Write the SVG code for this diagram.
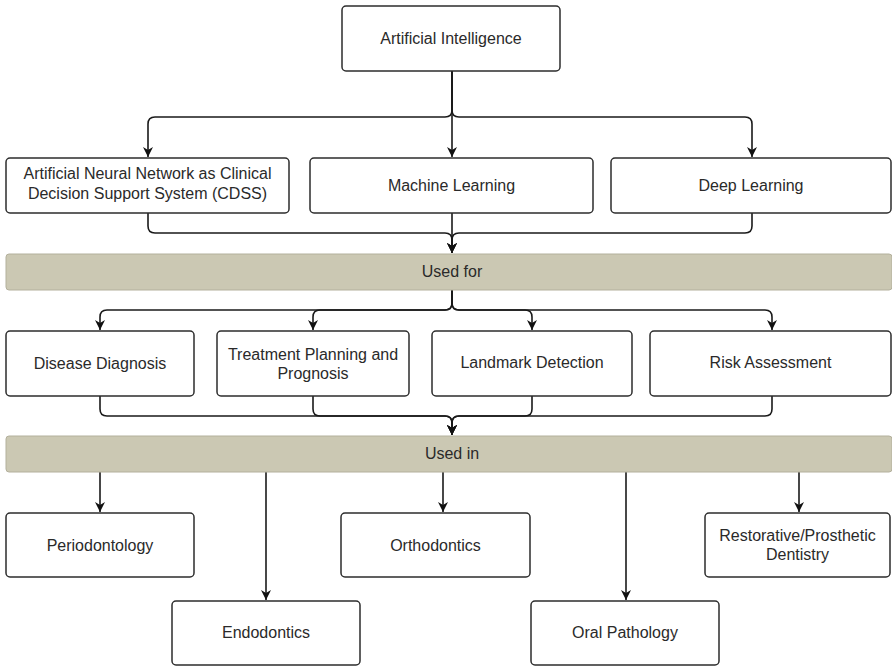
<svg xmlns="http://www.w3.org/2000/svg" width="892" height="667" viewBox="0 0 892 667">
<defs>
<marker id="ah" markerUnits="userSpaceOnUse" markerWidth="12" markerHeight="12" viewBox="0 0 12 12" refX="11" refY="6" orient="auto">
<path d="M1,1 L11,6 L1,11 L4,6 Z" fill="#111"/>
</marker>
<style>
.box{fill:#fff;stroke:#2d2d2d;stroke-width:1.5}
.bar{fill:#cbc8b3;stroke:#b3b09c;stroke-width:1}
.t{font-family:"Liberation Sans",Arial,sans-serif;font-size:16px;fill:#2a2a2a;text-anchor:middle}
.c{fill:none;stroke:#1a1a1a;stroke-width:1.6}
</style>
</defs>
<rect width="892" height="667" fill="#fff"/>
<g id="connectors">
<path class="c" d="M452,71 V110 Q452,117 445,117 H155 Q148,117 148,124 V157" marker-end="url(#ah)"/>
<path class="c" d="M452,71 V157" marker-end="url(#ah)"/>
<path class="c" d="M452,71 V110 Q452,117 459,117 H745 Q752,117 752,124 V157" marker-end="url(#ah)"/>
<path class="c" d="M148,213 V226 Q148,233 155,233 H445 Q452,233 452,240 V253" marker-end="url(#ah)"/>
<path class="c" d="M452,213 V253" marker-end="url(#ah)"/>
<path class="c" d="M752,213 V226 Q752,233 745,233 H459 Q452,233 452,240 V253" marker-end="url(#ah)"/>
<path class="c" d="M452,290 V303 Q452,310 445,310 H107 Q100,310 100,317 V330" marker-end="url(#ah)"/>
<path class="c" d="M452,290 V303 Q452,310 445,310 H320 Q313,310 313,317 V330" marker-end="url(#ah)"/>
<path class="c" d="M452,290 V303 Q452,310 459,310 H525 Q532,310 532,317 V330" marker-end="url(#ah)"/>
<path class="c" d="M452,290 V303 Q452,310 459,310 H765 Q772,310 772,317 V330" marker-end="url(#ah)"/>
<path class="c" d="M100,396 V409 Q100,416 107,416 H445 Q452,416 452,423 V435" marker-end="url(#ah)"/>
<path class="c" d="M313,396 V409 Q313,416 320,416 H445 Q452,416 452,423 V435" marker-end="url(#ah)"/>
<path class="c" d="M532,396 V409 Q532,416 525,416 H459 Q452,416 452,423 V435" marker-end="url(#ah)"/>
<path class="c" d="M772,396 V409 Q772,416 765,416 H459 Q452,416 452,423 V435" marker-end="url(#ah)"/>
<path class="c" d="M100,472 V512" marker-end="url(#ah)"/>
<path class="c" d="M266,472 V600" marker-end="url(#ah)"/>
<path class="c" d="M443,472 V512" marker-end="url(#ah)"/>
<path class="c" d="M626,472 V600" marker-end="url(#ah)"/>
<path class="c" d="M799,472 V512" marker-end="url(#ah)"/>
</g>
<g id="ai"><rect class="box" x="342" y="6" width="218" height="65" rx="4"/><text class="t" x="451" y="44">Artificial Intelligence</text></g>
<g id="ann"><rect class="box" x="6" y="158" width="283" height="55" rx="4"/><text class="t" x="147.5" y="179">Artificial Neural Network as Clinical</text><text class="t" x="147.5" y="199">Decision Support System (CDSS)</text></g>
<g id="ml"><rect class="box" x="310" y="158" width="283" height="55" rx="4"/><text class="t" x="451.5" y="191">Machine Learning</text></g>
<g id="dl"><rect class="box" x="611" y="158" width="280" height="55" rx="4"/><text class="t" x="751" y="191">Deep Learning</text></g>
<g id="usedfor"><rect class="bar" x="6" y="254" width="886" height="36" rx="3"/><text class="t" x="452" y="277">Used for</text></g>
<g id="disease"><rect class="box" x="6" y="331" width="188" height="65" rx="4"/><text class="t" x="100" y="369">Disease Diagnosis</text></g>
<g id="treatment"><rect class="box" x="217" y="331" width="192" height="65" rx="4"/><text class="t" x="313" y="360">Treatment Planning and</text><text class="t" x="313" y="379">Prognosis</text></g>
<g id="landmark"><rect class="box" x="432" y="331" width="200" height="65" rx="4"/><text class="t" x="532" y="368">Landmark Detection</text></g>
<g id="risk"><rect class="box" x="650" y="331" width="241" height="65" rx="4"/><text class="t" x="770.5" y="368">Risk Assessment</text></g>
<g id="usedin"><rect class="bar" x="6" y="436" width="886" height="36" rx="3"/><text class="t" x="452" y="459">Used in</text></g>
<g id="perio"><rect class="box" x="6" y="513" width="188" height="64" rx="4"/><text class="t" x="100" y="551">Periodontology</text></g>
<g id="ortho"><rect class="box" x="341" y="513" width="189" height="64" rx="4"/><text class="t" x="435.5" y="551">Orthodontics</text></g>
<g id="restor"><rect class="box" x="705" y="513" width="185" height="64" rx="4"/><text class="t" x="797.5" y="541">Restorative/Prosthetic</text><text class="t" x="797.5" y="560">Dentistry</text></g>
<g id="endo"><rect class="box" x="172" y="601" width="188" height="64" rx="4"/><text class="t" x="266" y="638">Endodontics</text></g>
<g id="oral"><rect class="box" x="531" y="601" width="188" height="64" rx="4"/><text class="t" x="625" y="638">Oral Pathology</text></g>
</svg>
